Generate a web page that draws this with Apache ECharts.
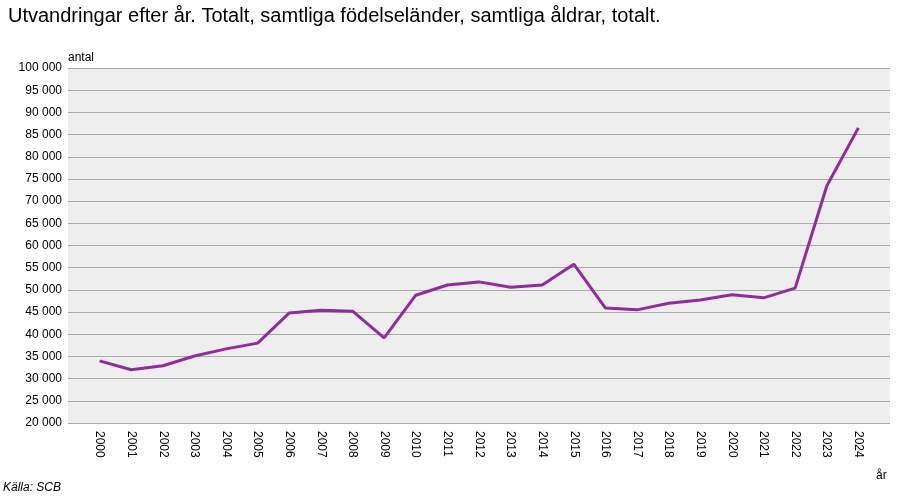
<!DOCTYPE html>
<html><head><meta charset="utf-8">
<script src="https://cdn.jsdelivr.net/npm/echarts@6/dist/echarts.min.js"></script>
<style>html,body{margin:0;padding:0;background:#fff}#c{width:900px;height:500px}</style>
</head><body><div id="c"></div>
<script>
const years = ['2000','2001','2002','2003','2004','2005','2006','2007','2008','2009','2010','2011','2012','2013','2014','2015','2016','2017','2018','2019','2020','2021','2022','2023','2024'];
const values = [34000,32000,32900,35100,36700,38000,44800,45400,45200,39200,48800,51100,51800,50600,51100,55800,45900,45500,47000,47700,48900,48200,50400,73400,86500];
const cats = [''].concat(years, ['']);
const data = [null].concat(values, [null]);
const chart = echarts.init(document.getElementById('c'));
const fmt = v => String(v).replace(/\B(?=(\d{3})+(?!\d))/g, '\u00a0');
chart.setOption({
  animation:false,
  textStyle:{fontFamily:'Liberation Sans, Arial'},
  title:{text:'Utvandringar efter år. Totalt, samtliga födelseländer, samtliga åldrar, totalt.',left:3,top:1,textStyle:{fontSize:20,fontWeight:'normal',color:'#000',fontFamily:'Liberation Sans, Arial'}},
  graphic:[
    {type:'text',left:68,top:52,style:{text:'antal',fontSize:12,fill:'#000',fontFamily:'Liberation Sans, Arial'}},
    {type:'text',left:876,top:470,style:{text:'år',fontSize:12,fill:'#000',fontFamily:'Liberation Sans, Arial'}},
    {type:'text',left:3,top:482,style:{text:'Källa: SCB',fontSize:12,fontStyle:'italic',fill:'#000',fontFamily:'Liberation Sans, Arial'}}
  ],
  grid:{left:68,right:10,top:68,bottom:77,show:true,backgroundColor:'#eeeeee',borderWidth:0},
  xAxis:{type:'category',data:cats,boundaryGap:false,
    axisLine:{show:false},axisTick:{show:false},
    axisLabel:{rotate:-90,color:'#000',fontSize:12,margin:8,interval:0}},
  yAxis:{type:'value',min:20000,max:100000,interval:5000,
    axisLine:{show:false},axisTick:{show:false},
    axisLabel:{color:'#000',fontSize:12,formatter:fmt,margin:6},
    splitLine:{lineStyle:{color:'#aaaaaa',width:1}}},
  series:[{type:'line',data:data,symbol:'none',lineStyle:{color:'#912c9c',width:3},itemStyle:{color:'#912c9c'}}]
});
</script></body></html>
